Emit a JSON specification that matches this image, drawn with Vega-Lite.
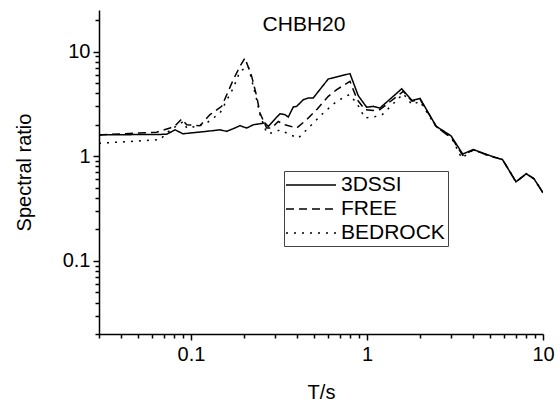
{
  "$schema": "https://vega.github.io/schema/vega-lite/v6.json",
  "width": 444,
  "height": 324,
  "autosize": {"type": "none"},
  "padding": {"left": 99, "top": 10, "right": 17, "bottom": 69},
  "background": "white",
  "config": {
    "view": {"stroke": null},
    "font": "Liberation Sans",
    "axis": {
      "grid": false,
      "domainColor": "black",
      "domainWidth": 1.5,
      "tickColor": "black",
      "tickWidth": 1.5,
      "labelFont": "Liberation Sans",
      "labelFontSize": 20,
      "labelColor": "black",
      "labelFlush": false,
      "labelOverlap": false,
      "titleFont": "Liberation Sans",
      "titleFontSize": 20,
      "titleFontWeight": "normal",
      "titleColor": "black"
    }
  },
  "datasets": {
    "curves": [
      {"series": "3DSSI", "T": 0.030, "ratio": 1.60},
      {"series": "3DSSI", "T": 0.0727, "ratio": 1.62},
      {"series": "3DSSI", "T": 0.0811, "ratio": 1.79},
      {"series": "3DSSI", "T": 0.0900, "ratio": 1.64},
      {"series": "3DSSI", "T": 0.1227, "ratio": 1.73},
      {"series": "3DSSI", "T": 0.1461, "ratio": 1.79},
      {"series": "3DSSI", "T": 0.1595, "ratio": 1.73},
      {"series": "3DSSI", "T": 0.1732, "ratio": 1.83},
      {"series": "3DSSI", "T": 0.1897, "ratio": 1.96},
      {"series": "3DSSI", "T": 0.2072, "ratio": 1.86},
      {"series": "3DSSI", "T": 0.2258, "ratio": 2.00},
      {"series": "3DSSI", "T": 0.2633, "ratio": 2.08},
      {"series": "3DSSI", "T": 0.2748, "ratio": 1.93},
      {"series": "3DSSI", "T": 0.3202, "ratio": 2.55},
      {"series": "3DSSI", "T": 0.3418, "ratio": 2.50},
      {"series": "3DSSI", "T": 0.3570, "ratio": 2.37},
      {"series": "3DSSI", "T": 0.3812, "ratio": 2.96},
      {"series": "3DSSI", "T": 0.3985, "ratio": 3.00},
      {"series": "3DSSI", "T": 0.4344, "ratio": 3.47},
      {"series": "3DSSI", "T": 0.4637, "ratio": 3.61},
      {"series": "3DSSI", "T": 0.4951, "ratio": 3.61},
      {"series": "3DSSI", "T": 0.6025, "ratio": 5.48},
      {"series": "3DSSI", "T": 0.8002, "ratio": 6.16},
      {"series": "3DSSI", "T": 0.8920, "ratio": 3.79},
      {"series": "3DSSI", "T": 0.9956, "ratio": 2.94},
      {"series": "3DSSI", "T": 1.085, "ratio": 3.00},
      {"series": "3DSSI", "T": 1.185, "ratio": 2.89},
      {"series": "3DSSI", "T": 1.574, "ratio": 4.41},
      {"series": "3DSSI", "T": 1.801, "ratio": 3.42},
      {"series": "3DSSI", "T": 2.000, "ratio": 3.57},
      {"series": "3DSSI", "T": 2.475, "ratio": 1.93},
      {"series": "3DSSI", "T": 3.000, "ratio": 1.57},
      {"series": "3DSSI", "T": 3.497, "ratio": 1.05},
      {"series": "3DSSI", "T": 4.017, "ratio": 1.16},
      {"series": "3DSSI", "T": 5.109, "ratio": 1.00},
      {"series": "3DSSI", "T": 5.885, "ratio": 0.93},
      {"series": "3DSSI", "T": 7.022, "ratio": 0.57},
      {"series": "3DSSI", "T": 8.035, "ratio": 0.68},
      {"series": "3DSSI", "T": 8.887, "ratio": 0.61},
      {"series": "3DSSI", "T": 10.0, "ratio": 0.447},

      {"series": "FREE", "T": 0.030, "ratio": 1.60},
      {"series": "FREE", "T": 0.0638, "ratio": 1.70},
      {"series": "FREE", "T": 0.0760, "ratio": 1.86},
      {"series": "FREE", "T": 0.0811, "ratio": 1.95},
      {"series": "FREE", "T": 0.0885, "ratio": 2.27},
      {"series": "FREE", "T": 0.0945, "ratio": 2.00},
      {"series": "FREE", "T": 0.1125, "ratio": 1.96},
      {"series": "FREE", "T": 0.1282, "ratio": 2.50},
      {"series": "FREE", "T": 0.1494, "ratio": 3.00},
      {"series": "FREE", "T": 0.1739, "ratio": 5.40},
      {"series": "FREE", "T": 0.1897, "ratio": 7.23},
      {"series": "FREE", "T": 0.2025, "ratio": 8.71},
      {"series": "FREE", "T": 0.2212, "ratio": 5.80},
      {"series": "FREE", "T": 0.2361, "ratio": 3.74},
      {"series": "FREE", "T": 0.2465, "ratio": 2.59},
      {"series": "FREE", "T": 0.2691, "ratio": 1.86},
      {"series": "FREE", "T": 0.2873, "ratio": 1.86},
      {"series": "FREE", "T": 0.3132, "ratio": 2.15},
      {"series": "FREE", "T": 0.3418, "ratio": 2.00},
      {"series": "FREE", "T": 0.3985, "ratio": 1.86},
      {"series": "FREE", "T": 0.4541, "ratio": 2.24},
      {"series": "FREE", "T": 0.5176, "ratio": 2.79},
      {"series": "FREE", "T": 0.6025, "ratio": 3.74},
      {"series": "FREE", "T": 0.6725, "ratio": 4.33},
      {"series": "FREE", "T": 0.8002, "ratio": 5.20},
      {"series": "FREE", "T": 0.8805, "ratio": 3.47},
      {"series": "FREE", "T": 0.9739, "ratio": 2.79},
      {"series": "FREE", "T": 1.085, "ratio": 2.74},
      {"series": "FREE", "T": 1.185, "ratio": 2.79},
      {"series": "FREE", "T": 1.607, "ratio": 4.17},
      {"series": "FREE", "T": 1.801, "ratio": 3.36},
      {"series": "FREE", "T": 2.000, "ratio": 3.51},
      {"series": "FREE", "T": 2.475, "ratio": 1.92},
      {"series": "FREE", "T": 2.836, "ratio": 1.61},
      {"series": "FREE", "T": 3.000, "ratio": 1.54},
      {"series": "FREE", "T": 3.497, "ratio": 1.02},
      {"series": "FREE", "T": 4.017, "ratio": 1.15},
      {"series": "FREE", "T": 5.109, "ratio": 0.99},
      {"series": "FREE", "T": 5.885, "ratio": 0.93},
      {"series": "FREE", "T": 7.022, "ratio": 0.57},
      {"series": "FREE", "T": 8.035, "ratio": 0.68},
      {"series": "FREE", "T": 8.887, "ratio": 0.61},
      {"series": "FREE", "T": 10.0, "ratio": 0.447},

      {"series": "BEDROCK", "T": 0.030, "ratio": 1.33},
      {"series": "BEDROCK", "T": 0.0666, "ratio": 1.44},
      {"series": "BEDROCK", "T": 0.0727, "ratio": 1.67},
      {"series": "BEDROCK", "T": 0.0793, "ratio": 1.86},
      {"series": "BEDROCK", "T": 0.0904, "ratio": 2.15},
      {"series": "BEDROCK", "T": 0.0945, "ratio": 1.86},
      {"series": "BEDROCK", "T": 0.1077, "ratio": 1.93},
      {"series": "BEDROCK", "T": 0.1227, "ratio": 2.08},
      {"series": "BEDROCK", "T": 0.1461, "ratio": 2.59},
      {"series": "BEDROCK", "T": 0.1739, "ratio": 4.49},
      {"series": "BEDROCK", "T": 0.1897, "ratio": 6.48},
      {"series": "BEDROCK", "T": 0.2115, "ratio": 7.23},
      {"series": "BEDROCK", "T": 0.2361, "ratio": 3.47},
      {"series": "BEDROCK", "T": 0.2465, "ratio": 2.50},
      {"series": "BEDROCK", "T": 0.2691, "ratio": 1.67},
      {"series": "BEDROCK", "T": 0.2934, "ratio": 1.67},
      {"series": "BEDROCK", "T": 0.3202, "ratio": 1.79},
      {"series": "BEDROCK", "T": 0.3650, "ratio": 1.61},
      {"series": "BEDROCK", "T": 0.4070, "ratio": 1.49},
      {"series": "BEDROCK", "T": 0.4742, "ratio": 1.93},
      {"series": "BEDROCK", "T": 0.5644, "ratio": 2.59},
      {"series": "BEDROCK", "T": 0.6725, "ratio": 3.35},
      {"series": "BEDROCK", "T": 0.7931, "ratio": 3.88},
      {"series": "BEDROCK", "T": 0.8736, "ratio": 3.23},
      {"series": "BEDROCK", "T": 0.9739, "ratio": 2.32},
      {"series": "BEDROCK", "T": 1.085, "ratio": 2.37},
      {"series": "BEDROCK", "T": 1.212, "ratio": 2.47},
      {"series": "BEDROCK", "T": 1.607, "ratio": 3.96},
      {"series": "BEDROCK", "T": 1.801, "ratio": 3.11},
      {"series": "BEDROCK", "T": 2.000, "ratio": 3.35},
      {"series": "BEDROCK", "T": 2.475, "ratio": 1.90},
      {"series": "BEDROCK", "T": 3.000, "ratio": 1.54},
      {"series": "BEDROCK", "T": 3.451, "ratio": 0.96},
      {"series": "BEDROCK", "T": 4.017, "ratio": 1.15},
      {"series": "BEDROCK", "T": 5.109, "ratio": 0.99},
      {"series": "BEDROCK", "T": 5.885, "ratio": 0.93},
      {"series": "BEDROCK", "T": 7.022, "ratio": 0.57},
      {"series": "BEDROCK", "T": 8.035, "ratio": 0.68},
      {"series": "BEDROCK", "T": 8.887, "ratio": 0.61},
      {"series": "BEDROCK", "T": 10.0, "ratio": 0.447}
    ],
    "label": [{"name": "CHBH20", "T": 0.4385, "ratio": 17.9}]
  },
  "layer": [
    {
      "data": {"name": "curves"},
      "mark": {"type": "line", "color": "black", "strokeWidth": 1.5, "clip": true},
      "encoding": {
        "x": {
          "field": "T", "type": "quantitative", "title": "T/s",
          "scale": {"type": "log", "domain": [0.03, 10], "nice": false},
          "axis": {
            "values": [0.03, 0.04, 0.05, 0.06, 0.07, 0.08, 0.09, 0.1, 0.2, 0.3, 0.4, 0.5, 0.6, 0.7, 0.8, 0.9, 1, 2, 3, 4, 5, 6, 7, 8, 9, 10],
            "labelExpr": "datum.value == 0.1 ? '0.1' : datum.value == 1 ? '1' : datum.value == 10 ? '10' : ''",
            "tickSize": {"condition": {"test": "datum.value == 0.1 || datum.value == 1 || datum.value == 10", "value": 6}, "value": 4},
            "labelPadding": 4,
            "titlePadding": 18
          }
        },
        "y": {
          "field": "ratio", "type": "quantitative", "title": "Spectral ratio",
          "scale": {"type": "log", "domain": [0.02, 25], "nice": false},
          "axis": {
            "values": [0.02, 0.03, 0.04, 0.05, 0.06, 0.07, 0.08, 0.09, 0.1, 0.2, 0.3, 0.4, 0.5, 0.6, 0.7, 0.8, 0.9, 1, 2, 3, 4, 5, 6, 7, 8, 9, 10, 20],
            "labelExpr": "datum.value == 0.1 ? '0.1' : datum.value == 1 ? '1' : datum.value == 10 ? '10' : ''",
            "tickSize": {"condition": {"test": "datum.value == 0.1 || datum.value == 1 || datum.value == 10", "value": 6}, "value": 4},
            "labelPadding": 3,
            "titlePadding": 28
          }
        },
        "strokeDash": {
          "field": "series", "type": "nominal",
          "scale": {"domain": ["3DSSI", "FREE", "BEDROCK"], "range": [[1, 0], [8, 5], [2, 6]]},
          "legend": {
            "orient": "none",
            "legendX": 185,
            "legendY": 161,
            "title": null,
            "strokeColor": "#444444",
            "fillColor": "white",
            "padding": 3,
            "rowPadding": 3,
            "symbolType": "M-1.2,0H3.8",
            "symbolSize": 400,
            "symbolStrokeWidth": 1.5,
            "symbolStrokeColor": "black",
            "symbolFillColor": "transparent",
            "labelFont": "Liberation Sans",
            "labelFontSize": 21,
            "labelOffset": 32,
            "labelColor": "black",
            "labelLimit": 0
          }
        }
      }
    },
    {
      "data": {"name": "label"},
      "mark": {"type": "text", "font": "Liberation Sans", "fontSize": 21, "color": "black", "baseline": "middle", "align": "center"},
      "encoding": {
        "x": {"field": "T", "type": "quantitative", "title": "T/s"},
        "y": {"field": "ratio", "type": "quantitative", "title": "Spectral ratio"},
        "text": {"field": "name"}
      }
    }
  ]
}
